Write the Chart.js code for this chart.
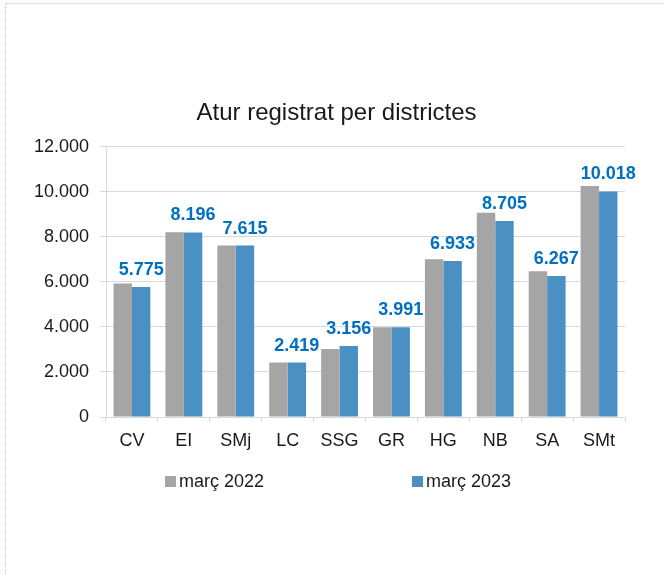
<!DOCTYPE html>
<html><head><meta charset="utf-8">
<script src="https://cdn.jsdelivr.net/npm/chart.js@4/dist/chart.umd.min.js"></script>
<style>
html,body{margin:0;padding:0;background:#fff;}
#wrap{position:relative;width:664px;height:574px;overflow:hidden;}
#frame{position:absolute;left:5px;top:3px;right:-2px;bottom:-2px;border-top:1px dotted #c8c8c8;border-left:1px dotted #c8c8c8;}
canvas{position:absolute;left:0;top:0;}
</style></head><body>
<div id="wrap"><div id="frame"></div><canvas id="c" width="664" height="574"></canvas></div>
<script>
const categories = ['CV','EI','SMj','LC','SSG','GR','HG','NB','SA','SMt'];
const values2022 = [5925, 8200, 7620, 2420, 3020, 3991, 7010, 9075, 6475, 10255];
const values2023 = [5775, 8196, 7615, 2419, 3156, 3991, 6933, 8705, 6267, 10018];
const seriesLabels = ['març 2022', 'març 2023'];
const seriesColors = ['#A5A5A5', '#4A90C3'];
const yMin = 0, yMax = 12000, yStep = 2000;

const FONT = '"Liberation Sans", Arial, sans-serif';
function fmt(v){ return String(Math.round(v)).replace(/\B(?=(\d{3})+(?!\d))/g, '.'); }

const valueLabels = {
  id: 'valueLabels',
  afterDatasetsDraw(chart){
    const ctx = chart.ctx;
    const meta = chart.getDatasetMeta(1);
    const data = chart.data.datasets[1].data;
    ctx.save();
    ctx.font = 'bold 18px ' + FONT;
    ctx.fillStyle = '#0070C0';
    ctx.textAlign = 'center';
    ctx.textBaseline = 'alphabetic';
    meta.data.forEach((bar, i) => { ctx.fillText(fmt(data[i]), bar.x, bar.y - 12); });
    ctx.restore();
  }
};

const boxLegend = {
  id: 'boxLegend',
  afterDraw(chart){
    const ctx = chart.ctx;
    const cx = chart.width / 2;
    const xs = [cx - 167, cx + 80];
    const baseY = chart.chartArea.bottom + 70;
    ctx.save();
    ctx.font = '18px ' + FONT;
    ctx.textAlign = 'left';
    ctx.textBaseline = 'alphabetic';
    chart.data.datasets.forEach((ds, i) => {
      ctx.fillStyle = ds.backgroundColor;
      ctx.fillRect(xs[i], baseY - 11, 11, 11);
      ctx.fillStyle = '#1a1a1a';
      ctx.fillText(ds.label, xs[i] + 14, baseY);
    });
    ctx.restore();
  }
};

const titleShift = {
  id: 'titleShift',
  afterLayout(chart){
    const t = chart.titleBlock;
    if (t) { t.left += 48; }
  }
};

new Chart(document.getElementById('c'), {
  type: 'bar',
  data: {
    labels: categories,
    datasets: [
      { label: seriesLabels[0], data: values2022, backgroundColor: seriesColors[0], categoryPercentage: 0.71, barPercentage: 1.0 },
      { label: seriesLabels[1], data: values2023, backgroundColor: seriesColors[1], categoryPercentage: 0.71, barPercentage: 1.0 }
    ]
  },
  options: {
    responsive: false,
    animation: false,
    devicePixelRatio: 1,
    layout: { padding: { top: 0, left: 0, right: 39, bottom: 112 } },
    plugins: {
      legend: { display: false },
      tooltip: { enabled: false },
      title: {
        display: true,
        text: 'Atur registrat per districtes',
        color: '#1a1a1a',
        font: { family: FONT, size: 24, weight: 'normal' },
        padding: { top: 99, bottom: 19 }
      }
    },
    scales: {
      x: {
        afterFit(s){ s.height = 45; },
        grid: { display: true, drawOnChartArea: false, drawTicks: true, tickLength: 5, color: '#D9D9D9', offset: true },
        border: { color: '#D9D9D9' },
        ticks: { color: '#1a1a1a', font: { family: FONT, size: 18 }, padding: 8, maxRotation: 0 }
      },
      y: {
        min: yMin, max: yMax,
        afterFit(s){ s.width = 106; },
        grid: { color: '#D9D9D9', tickLength: 6 },
        border: { color: '#D9D9D9' },
        ticks: { stepSize: yStep, color: '#1a1a1a', font: { family: FONT, size: 18 }, padding: 11, callback: v => fmt(v) }
      }
    }
  },
  plugins: [valueLabels, boxLegend, titleShift]
});
</script>
</body></html>
